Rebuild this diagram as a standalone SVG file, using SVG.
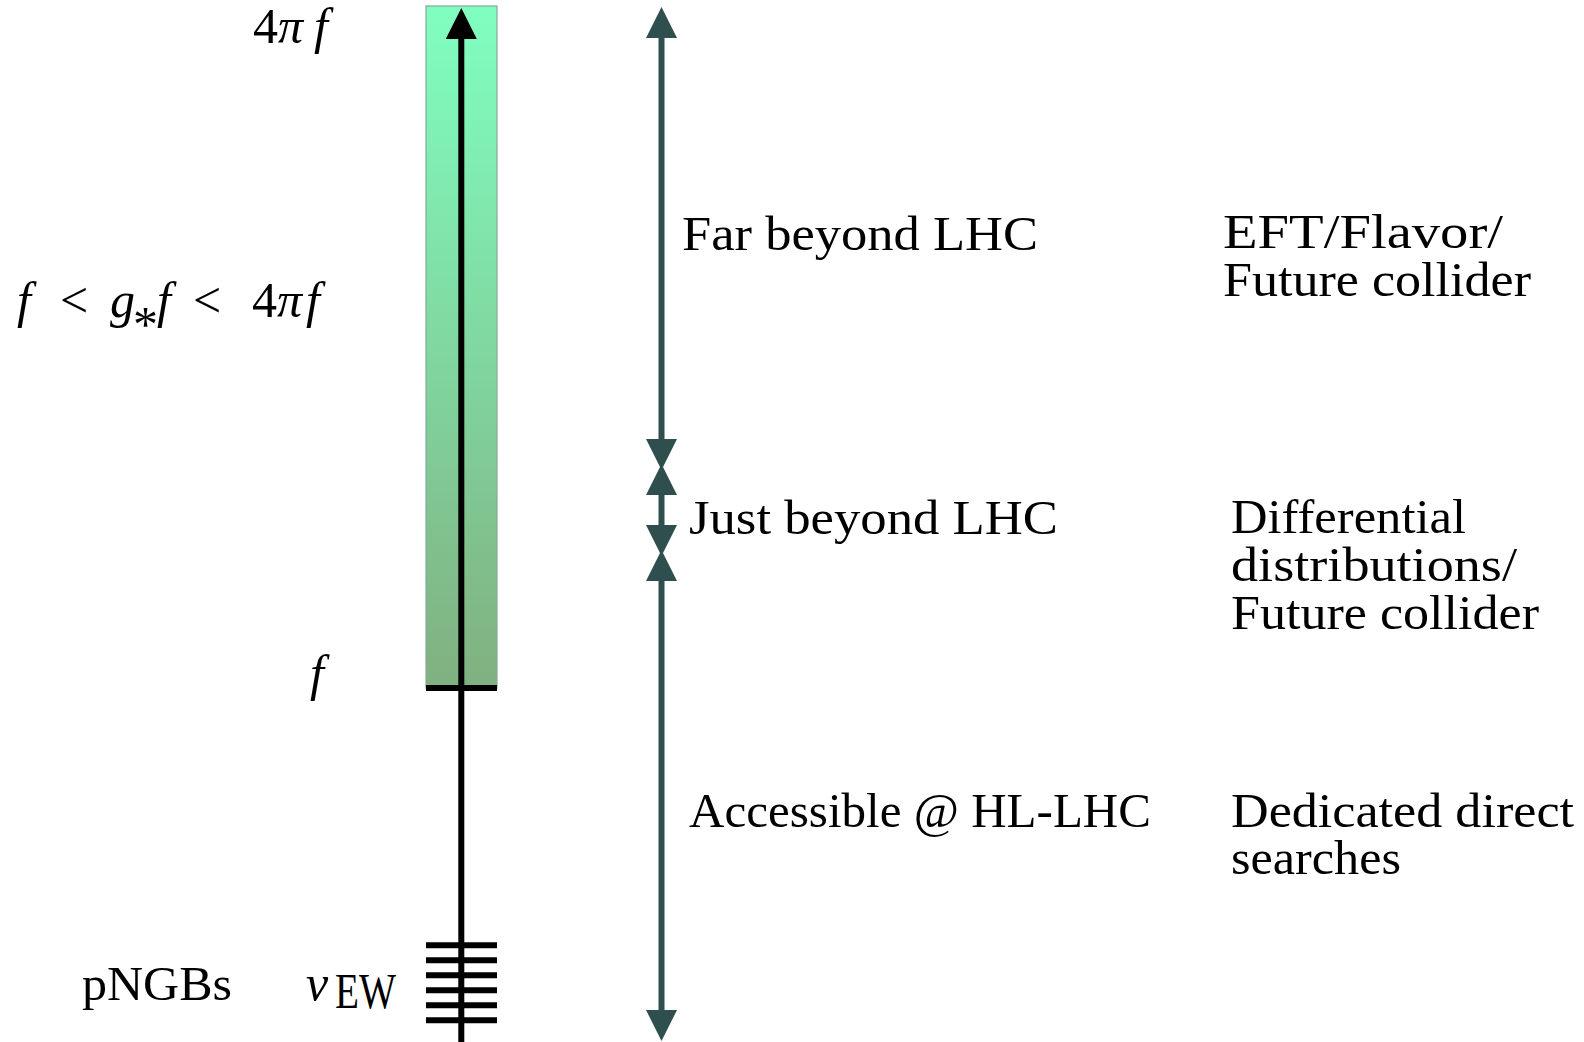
<svg xmlns="http://www.w3.org/2000/svg" width="1584" height="1042" viewBox="0 0 1584 1042">
<style>
  .txt { font-family: "Liberation Serif", "DejaVu Serif", serif; font-size: 47.5px; fill: #000; }
  .math { font-family: "Liberation Serif", "DejaVu Serif", serif; font-size: 50px; fill: #000; }
  .it { font-style: italic; }
  .teal { stroke: #2f4f4f; stroke-width: 6; fill: none; }
  .blk { stroke: #000; stroke-width: 6; fill: none; }
</style>
<defs>
  <linearGradient id="grad" x1="0" y1="0" x2="0" y2="1">
    <stop offset="0" stop-color="#80ffc0"/>
    <stop offset="1" stop-color="#80b080"/>
  </linearGradient>
  <marker id="tealHead" markerUnits="userSpaceOnUse" markerWidth="31" markerHeight="31" refX="0" refY="15.5" orient="auto-start-reverse" viewBox="0 0 31 31">
    <path d="M0,0 L31,15.5 L0,31 Z" fill="#2f4f4f"/>
  </marker>
  <marker id="blkHead" markerUnits="userSpaceOnUse" markerWidth="31" markerHeight="31" refX="0" refY="15.5" orient="auto" viewBox="0 0 31 31">
    <path d="M0,0 L31,15.5 L0,31 Z" fill="#000"/>
  </marker>
</defs>
<rect width="1584" height="1042" fill="#fff"/>

<g id="scale-bar">
  <rect x="426" y="6" width="71" height="682" fill="url(#grad)" stroke="#88a898" stroke-width="1.2"/>
  <line class="blk" x1="426" y1="688" x2="497" y2="688"/>
  <g id="pngb-ticks" class="blk">
    <line x1="426" y1="945.3" x2="497" y2="945.3"/>
    <line x1="426" y1="960.3" x2="497" y2="960.3"/>
    <line x1="426" y1="975.3" x2="497" y2="975.3"/>
    <line x1="426" y1="990.3" x2="497" y2="990.3"/>
    <line x1="426" y1="1005.3" x2="497" y2="1005.3"/>
    <line x1="426" y1="1020.3" x2="497" y2="1020.3"/>
  </g>
</g>

<g id="connectors">
  <line class="blk" x1="461.3" y1="1042" x2="461.3" y2="39" marker-end="url(#blkHead)"/>
  <line class="teal" x1="661.5" y1="38" x2="661.5" y2="439" marker-start="url(#tealHead)" marker-end="url(#tealHead)"/>
  <line class="teal" x1="661.5" y1="495" x2="661.5" y2="525" marker-start="url(#tealHead)" marker-end="url(#tealHead)"/>
  <line class="teal" x1="661.5" y1="581" x2="661.5" y2="1010" marker-start="url(#tealHead)" marker-end="url(#tealHead)"/>
</g>

<g id="label-4pif">
  <text class="math" y="43" font-size="48"><tspan x="253">4</tspan><tspan class="it" x="278">π</tspan><tspan class="it" x="314">f</tspan></text>
</g>
<g id="label-gstar">
  <text class="math" y="317"><tspan class="it" x="17">f</tspan><tspan x="60">&lt;</tspan><tspan class="it" x="110">g</tspan><tspan x="157" class="it">f</tspan><tspan x="193">&lt;</tspan><tspan x="252">4</tspan><tspan class="it" x="277">π</tspan><tspan class="it" x="306">f</tspan></text>
  <text class="math" x="133" y="341" font-size="32">*</text>
</g>
<g id="label-f">
  <text class="math it" x="310" y="690">f</text>
</g>
<g id="label-pngbs">
  <text class="txt" x="82" y="1000" textLength="150" lengthAdjust="spacingAndGlyphs">pNGBs</text>
</g>
<g id="label-vew">
  <text class="math it" x="306" y="1000">v</text>
  <text class="math" x="335" y="1008" font-size="34" textLength="61" lengthAdjust="spacingAndGlyphs">EW</text>
</g>

<g id="region-far">
  <text class="txt" x="682" y="249.5" textLength="356" lengthAdjust="spacingAndGlyphs">Far beyond LHC</text>
  <text class="txt" x="1223" y="248" textLength="280" lengthAdjust="spacingAndGlyphs">EFT/Flavor/</text>
  <text class="txt" x="1223" y="296" textLength="308" lengthAdjust="spacingAndGlyphs">Future collider</text>
</g>
<g id="region-just">
  <text class="txt" x="689" y="534" textLength="369" lengthAdjust="spacingAndGlyphs">Just beyond LHC</text>
  <text class="txt" x="1231" y="533" textLength="235" lengthAdjust="spacingAndGlyphs">Differential</text>
  <text class="txt" x="1231" y="581" textLength="286" lengthAdjust="spacingAndGlyphs">distributions/</text>
  <text class="txt" x="1231" y="629" textLength="308" lengthAdjust="spacingAndGlyphs">Future collider</text>
</g>
<g id="region-accessible">
  <text class="txt" x="689" y="827" textLength="462" lengthAdjust="spacingAndGlyphs">Accessible @ HL-LHC</text>
  <text class="txt" x="1231" y="827" textLength="343" lengthAdjust="spacingAndGlyphs">Dedicated direct</text>
  <text class="txt" x="1231" y="874" textLength="170" lengthAdjust="spacingAndGlyphs">searches</text>
</g>
</svg>
